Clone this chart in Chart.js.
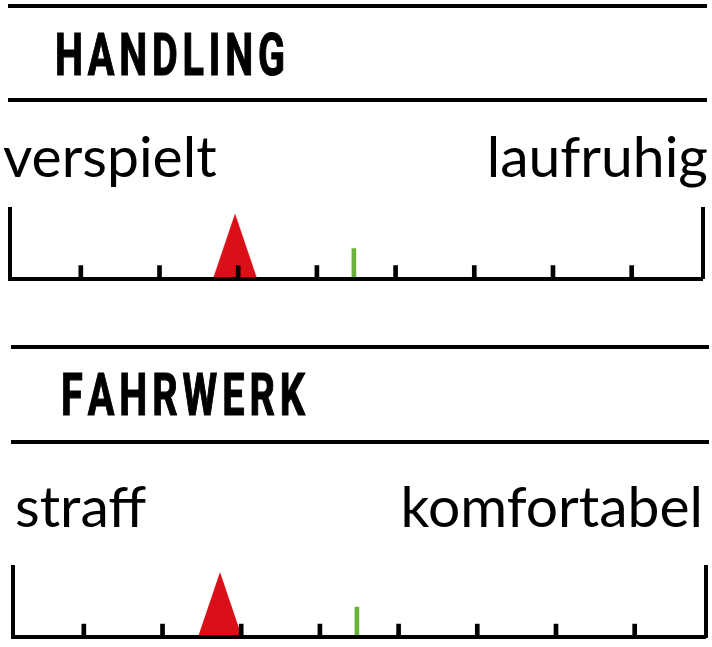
<!DOCTYPE html>
<html>
<head>
<meta charset="utf-8">
<script src="https://cdn.jsdelivr.net/npm/chart.js@4.4.1/dist/chart.umd.min.js"></script>
<style>
  html, body { margin: 0; padding: 0; background: #fff; overflow: hidden; }
  .panel { position: absolute; left: 0; }
</style>
</head>
<body>
<div class="panel" style="top:0"><canvas id="c0" width="712" height="320"></canvas></div>
<div class="panel" style="top:320px"><canvas id="c1" width="712" height="327"></canvas></div>
<script>
// chart values
let titles = ["HANDLING", "FAHRWERK"];
let leftLabels = ["verspielt", "straff"];
let rightLabels = ["laufruhig", "komfortabel"];
let ratings = [2.96, 2.73];       // red triangle
let references = [4.47, 4.47];    // green mark
let tickValues = [1, 2, 3, 4, 5, 6, 7, 8];
let scaleMin = 0.1;
let scaleMax = 8.9;

// looks
let style = {
    black: "#000000",
    red: "#db0f18",
    green: "#6ab23a",
    scaleH: 70,
    tickH: 13,
    refH: 30,
    triW: 44,
    triH: 65
};

// positions inside each canvas
let layouts = [
    {w: 712, h: 320, rule1: 6, rule2: 100, ruleL: 8, ruleR: 707, titleX: 55, titleY: 75, titleW: 230,
     labelY: 177, labelL: 3, labelR: 708, top: 208.5, bottom: 278.5, left: 10, right: 702.5},
    {w: 712, h: 327, rule1: 27, rule2: 122, ruleL: 11, ruleR: 709, titleX: 61, titleY: 95, titleW: 244,
     labelY: 207, labelL: 15, labelR: 703, top: 247, bottom: 317, left: 13, right: 705.5}
];

function triangleImage(w, h, color){
    let c = document.createElement("canvas");
    c.width = w;
    c.height = h;
    let g = c.getContext("2d");
    g.fillStyle = color;
    g.beginPath();
    g.moveTo(w / 2, 0);
    g.lineTo(w, h);
    g.lineTo(0, h);
    g.closePath();
    g.fill();
    return c;
}

// rules, heading and end labels
let panelText = {
    id: "panelText",
    afterDraw(chart, args, opts){
        let L = opts.layout;
        let i = opts.index;
        let ctx = chart.ctx;

        ctx.save();
        ctx.strokeStyle = style.black;
        ctx.fillStyle = style.black;
        ctx.lineWidth = 4;
        [L.rule1, L.rule2].forEach(y => {
            ctx.beginPath();
            ctx.moveTo(L.ruleL, y);
            ctx.lineTo(L.ruleR, y);
            ctx.stroke();
        });

        // condensed heading, spread to its width
        ctx.font = "bold 60px Roboto";
        ctx.textBaseline = "alphabetic";
        ctx.textAlign = "left";
        ctx.lineWidth = 1.2;
        ctx.lineJoin = "miter";
        let sx = 0.66;
        let chars = titles[i].split("");
        let widths = chars.map(ch => ctx.measureText(ch).width * sx);
        let gap = (L.titleW - widths.reduce((a, b) => a + b, 0)) / (chars.length - 1);
        let x = L.titleX;
        chars.forEach((ch, k) => {
            ctx.save();
            ctx.translate(x, L.titleY);
            ctx.scale(sx, 1);
            ctx.fillText(ch, 0, 0);
            ctx.strokeText(ch, 0, 0);
            ctx.restore();
            x += widths[k] + gap;
        });

        ctx.font = "57px Lato";
        ctx.textAlign = "left";
        ctx.fillText(leftLabels[i], L.labelL, L.labelY);
        ctx.textAlign = "right";
        ctx.fillText(rightLabels[i], L.labelR, L.labelY);
        ctx.restore();
    }
};

let triangle = triangleImage(style.triW, style.triH, style.red);

titles.forEach((title, i) => {
    let L = layouts[i];
    let ctx = document.getElementById("c" + i);

    new Chart(ctx, {
        type: "bar",
        data: {
            datasets: [
                {
                    label: "Skala",
                    data: tickValues.map(v => ({x: v, y: style.tickH})),
                    backgroundColor: style.black,
                    barThickness: 4,
                    grouped: false,
                    order: 0
                },
                {
                    label: "Referenz",
                    data: [{x: references[i], y: style.refH}],
                    backgroundColor: style.green,
                    barThickness: 4,
                    grouped: false,
                    order: 0
                },
                {
                    type: "line",
                    label: "Wertung",
                    data: [{x: ratings[i], y: style.triH / 2}],
                    showLine: false,
                    pointStyle: triangle,
                    pointRadius: 5,
                    order: 1
                }
            ]
        },
        options: {
            responsive: false,
            animation: false,
            layout: {
                padding: {top: L.top, bottom: L.h - L.bottom, left: L.left, right: L.w - L.right}
            },
            plugins: {
                legend: {display: false},
                tooltip: {enabled: false},
                panelText: {layout: L, index: i}
            },
            scales: {
                x: {
                    type: "linear",
                    min: scaleMin,
                    max: scaleMax,
                    offset: false,
                    grid: {display: false, drawTicks: false, offset: false},
                    ticks: {display: false},
                    border: {display: true, color: style.black, width: 4, z: 1}
                },
                y: {
                    position: "left",
                    min: 0,
                    max: style.scaleH,
                    grid: {display: false, drawTicks: false},
                    ticks: {display: false},
                    border: {display: true, color: style.black, width: 4}
                },
                y2: {
                    position: "right",
                    min: 0,
                    max: style.scaleH,
                    grid: {display: false, drawTicks: false},
                    ticks: {display: false},
                    border: {display: true, color: style.black, width: 4}
                }
            }
        },
        plugins: [panelText]
    });
});
</script>
</body>
</html>
